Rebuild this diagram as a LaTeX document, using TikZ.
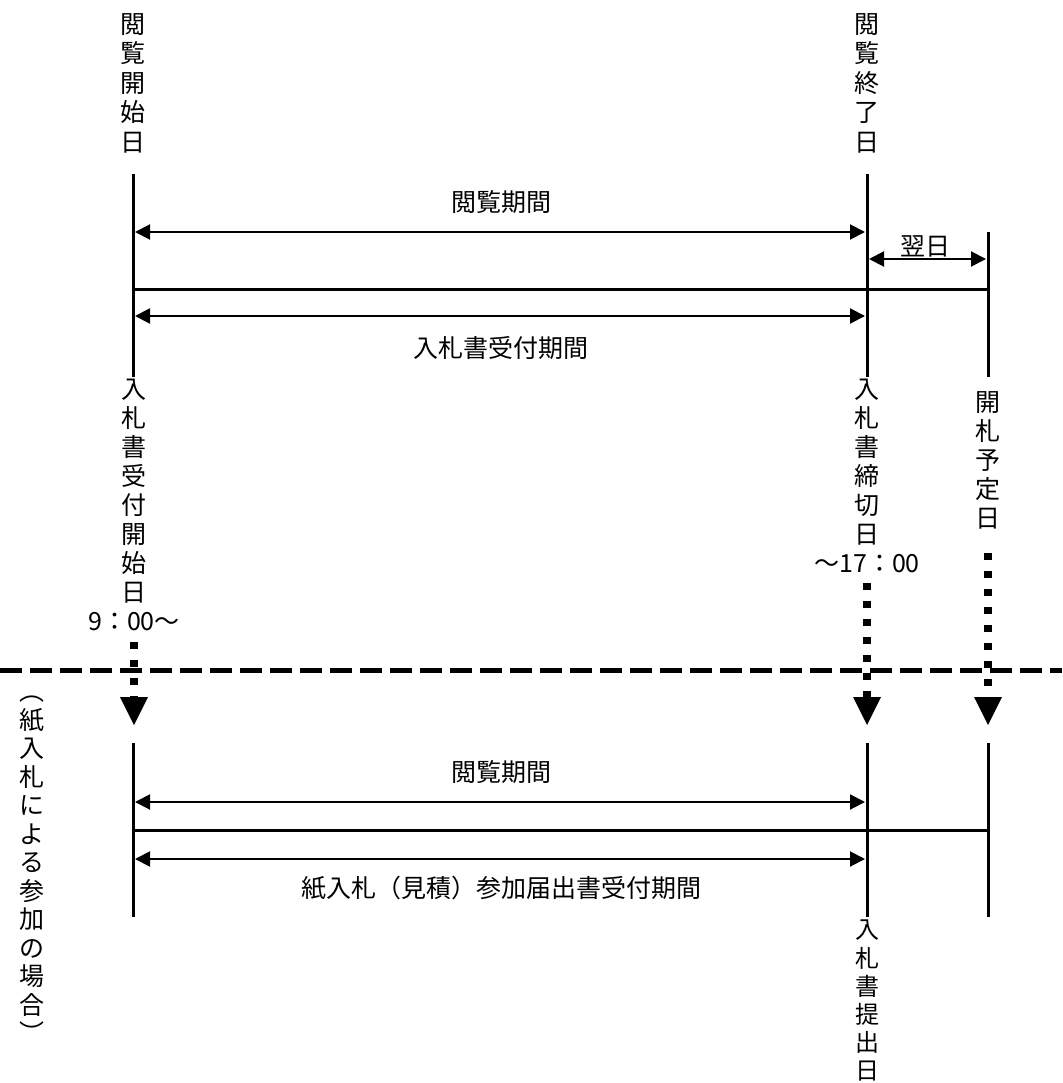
\documentclass[tikz,border=0pt]{standalone}
\usepackage{fontspec}
\newfontfamily\cjk{Noto Sans CJK JP}
\usetikzlibrary{arrows.meta}
\begin{document}
\begin{tikzpicture}[x=1pt,y=-1pt,
  vline/.style={line width=3pt},
  span/.style={line width=2pt,{Triangle[width=15pt,length=15pt]}-{Triangle[width=15pt,length=15pt]}},
  vlab/.style={font=\cjk\fontsize{25}{29.5}\selectfont,align=center,inner sep=0pt,anchor=north},
  hlab/.style={font=\cjk\fontsize{25}{30}\selectfont,inner sep=0pt},
  dotline/.style={line width=7.5pt,dash pattern=on 7pt off 11pt},
  sepline/.style={line width=5pt,dash pattern=on 22pt off 8pt},
  tip/.style={fill=black}
]
\useasboundingbox (0,0) rectangle (1062,1083);

% ---------- top section ----------
\coordinate (A1) at (133,174);  \coordinate (A2) at (133,377);
\coordinate (B1) at (867,174);  \coordinate (B2) at (867,377);
\coordinate (C1) at (988,232);  \coordinate (C2) at (988,377);
\draw[vline] (A1) -- (A2);
\draw[vline] (B1) -- (B2);
\draw[vline] (C1) -- (C2);

\coordinate (p1l) at (135,232);  \coordinate (p1r) at (865,232);
\coordinate (p2l) at (869,259);  \coordinate (p2r) at (986,259);
\coordinate (h1l) at (133,289);  \coordinate (h1r) at (988,289);
\coordinate (p3l) at (135,316);  \coordinate (p3r) at (865,316);
\draw[span] (p1l) -- (p1r);
\draw[span] (p2l) -- (p2r);
\draw[vline] (h1l) -- (h1r);
\draw[span] (p3l) -- (p3r);

\node[hlab] (t1) at (501,202) {閲覧期間};
\node[hlab] (t2) at (925,246) {翌日};
\node[hlab] (t3) at (501,348) {入札書受付期間};

\node[vlab] (l1) at (133,13) {閲\\覧\\開\\始\\日};
\node[vlab] (l2) at (867,13) {閲\\覧\\終\\了\\日};
\node[vlab,font=\cjk\fontsize{25}{29}\selectfont] (l3) at (134,379) {入\\札\\書\\受\\付\\開\\始\\日\\9：00～};
\node[vlab,font=\cjk\fontsize{25}{29}\selectfont] (l4) at (867,379) {入\\札\\書\\締\\切\\日\\～17：00};
\node[vlab,font=\cjk\fontsize{25}{29}\selectfont] (l5) at (988,391) {開\\札\\予\\定\\日};

% ---------- separator ----------
\coordinate (s1) at (0,670); \coordinate (s2) at (1062,670);
\draw[sepline] (s1) -- (s2);

% ---------- dotted arrows ----------
\coordinate (d1s) at (134,642); \coordinate (d1e) at (134,700);
\coordinate (d2s) at (867,583); \coordinate (d2e) at (867,700);
\coordinate (d3s) at (988,553); \coordinate (d3e) at (988,700);
\draw[dotline] (d1s) -- (d1e);
\draw[dotline] (d2s) -- (d2e);
\draw[dotline] (d3s) -- (d3e);
\coordinate (a1) at (134,725);
\coordinate (a2) at (867,725);
\coordinate (a3) at (988,725);
\fill[tip] (a1) -- ++(-14,-28) -- ++(28,0) -- cycle;
\fill[tip] (a2) -- ++(-14,-28) -- ++(28,0) -- cycle;
\fill[tip] (a3) -- ++(-14,-28) -- ++(28,0) -- cycle;

% ---------- bottom section ----------
\coordinate (D1) at (133,743);  \coordinate (D2) at (133,917);
\coordinate (E1) at (867,743);  \coordinate (E2) at (867,917);
\coordinate (F1) at (988,743);  \coordinate (F2) at (988,917);
\draw[vline] (D1) -- (D2);
\draw[vline] (E1) -- (E2);
\draw[vline] (F1) -- (F2);

\coordinate (q1l) at (135,802);  \coordinate (q1r) at (865,802);
\coordinate (h2l) at (133,830);  \coordinate (h2r) at (988,830);
\coordinate (q2l) at (135,859);  \coordinate (q2r) at (865,859);
\draw[span] (q1l) -- (q1r);
\draw[vline] (h2l) -- (h2r);
\draw[span] (q2l) -- (q2r);

\node[hlab] (b1) at (501,772) {閲覧期間};
\node[hlab] (b2) at (501,888) {紙入札（見積）参加届出書受付期間};

\node[vlab,font=\cjk\fontsize{24}{28.2}\selectfont] (l6) at (867,920) {入\\札\\書\\提\\出\\日};
\node[vlab,font=\cjk\fontsize{25}{28.5}\selectfont] (l7) at (32,696) {︵\\紙\\入\\札\\に\\よ\\る\\参\\加\\の\\場\\合\\︶};
\end{tikzpicture}
\end{document}
